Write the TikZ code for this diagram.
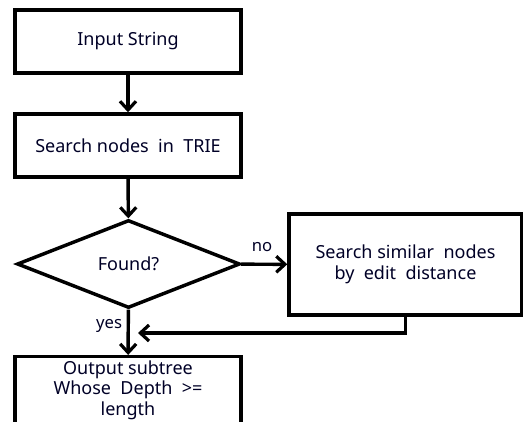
\documentclass[tikz,border=0pt]{standalone}
\usepackage{fontspec}
\setmainfont{Noto Sans}
\usetikzlibrary{arrows.meta,shapes.geometric}
\begin{document}
\begin{tikzpicture}[x=0.75pt,y=-0.75pt,
  every node/.style={font=\fontsize{13.5}{15.5}\selectfont, text=black!85!blue},
  box/.style={draw=black, line width=2.6pt, align=center, inner sep=0pt,
              minimum width=169.5pt, minimum height=47.25pt},
  decision/.style={draw=black, diamond, line width=2.6pt, inner sep=0pt, aspect=2.5,
              minimum width=167.25pt, minimum height=66pt},
  flow/.style={line width=2.6pt, -{Straight Barb[length=6.5pt,width=12pt,line width=2.4pt]}},
  lbl/.style={font=\fontsize{12.5}{14}\selectfont}]
\useasboundingbox (0,0) rectangle (523,421);
\clip (0,0) rectangle (523,421);
\node[box] (input) at (128,41.5) {Input String};
\node[box] (search) at (128,145.5) {Search nodes\ \ in\ \ TRIE};
\node[decision] (found) at (128.5,264) {Found?};
\node[box, minimum width=174.75pt, minimum height=75.75pt] (similar) at (405.5,264.5)
  {Search similar\ \ nodes\\by\ \ edit\ \ distance};
\node[box, minimum height=50pt] (output) at (128,390)
  {Output subtree\\Whose\ \ Depth\ \ >=\\length};
\coordinate (ret) at (138,333);
\draw[flow] (input) -- (search);
\draw[flow] (search) -- (found);
\draw[flow] (found) -- node[lbl, above, pos=0.45, yshift=5pt] {no} (similar);
\draw[flow] (found) -- node[lbl, left, pos=0.35] {yes} (output);
\draw[flow] (similar.south) |- (ret);
\end{tikzpicture}
\end{document}
